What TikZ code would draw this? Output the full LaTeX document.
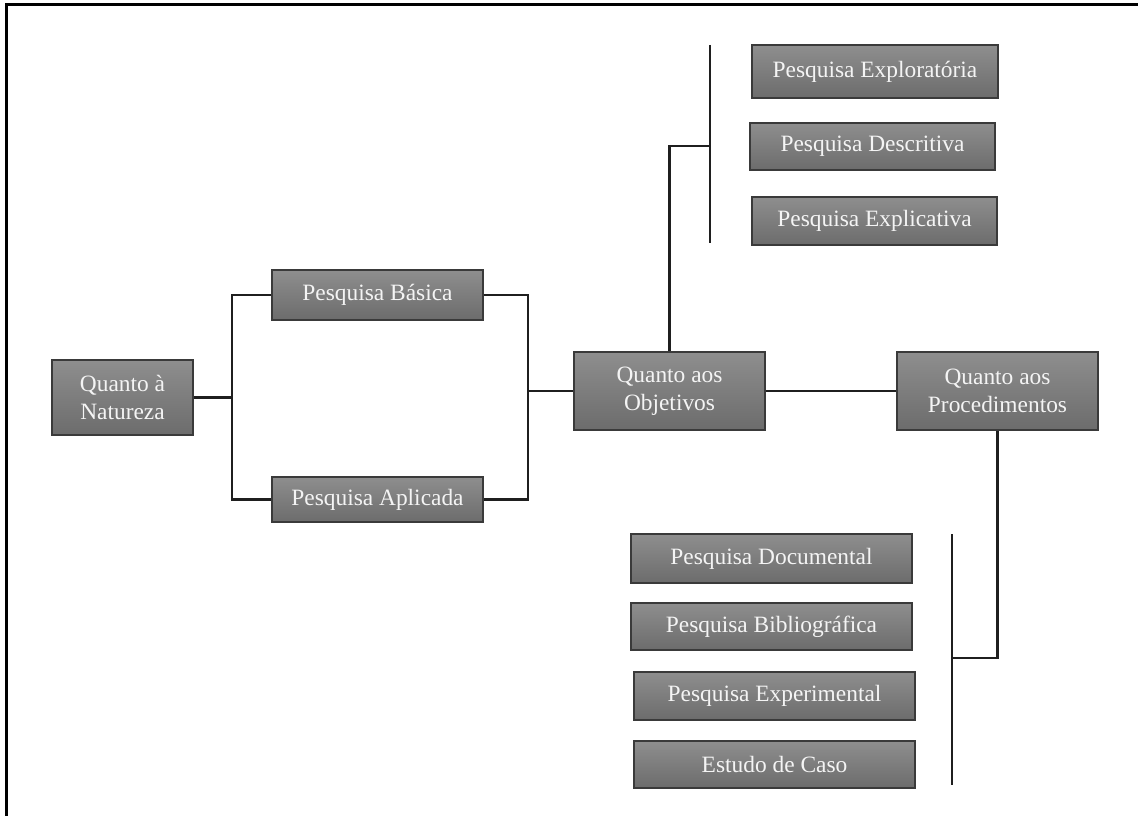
\documentclass[tikz,border=0pt]{standalone}
\usepackage{fontspec}
\setmainfont{Liberation Serif}
\definecolor{boxtop}{HTML}{8E8E8E}
\definecolor{boxbot}{HTML}{6C6C6C}
\definecolor{boxedge}{HTML}{3A3A3A}
\definecolor{boxtext}{HTML}{F4F4F4}
\begin{document}
\begin{tikzpicture}[x=1pt,y=-1pt,
  box/.style={draw=boxedge, line width=1.2pt, top color=boxtop, bottom color=boxbot,
    text=boxtext, inner sep=0pt, align=center,
    font=\fontsize{23.4}{28}\selectfont},
  link/.style={line width=2.4pt, draw=black!88}]
\useasboundingbox (0,0) rectangle (1138,816);
\fill[white] (0,0) rectangle (1138,816);
% open frame (top and left edges)
\draw[line width=3pt] (6,816) -- (6,5) -- (1138,5);

% boxes: centre, width, height
\node[box, minimum width=141pt, minimum height=75pt] (nat) at (122.5,397.5) {Quanto à\\Natureza};
\node[box, minimum width=211pt, minimum height=50pt] (bas) at (377.5,295) {Pesquisa Básica};
\node[box, minimum width=211pt, minimum height=45pt] (apl) at (377.5,499.5) {Pesquisa Aplicada};
\node[box, minimum width=191pt, minimum height=78pt] (obj) at (669.5,391) {Quanto aos\\Objetivos};
\node[box, minimum width=201pt, minimum height=78pt] (proc) at (997.5,391) {Quanto aos\\Procedimentos};

\node[box, minimum width=246pt, minimum height=53pt] (expl) at (875,71.5) {Pesquisa Exploratória};
\node[box, minimum width=245pt, minimum height=47pt] (desc) at (872.5,146.5) {Pesquisa Descritiva};
\node[box, minimum width=245pt, minimum height=48pt] (expc) at (874.5,221) {Pesquisa Explicativa};

\node[box, minimum width=281pt, minimum height=49pt] (doc) at (771.5,558.5) {Pesquisa Documental};
\node[box, minimum width=281pt, minimum height=47pt] (bib) at (771.5,626.5) {Pesquisa Bibliográfica};
\node[box, minimum width=281pt, minimum height=48pt] (exp) at (774.5,696) {Pesquisa Experimental};
\node[box, minimum width=281pt, minimum height=47pt] (cas) at (774.5,764.5) {Estudo de Caso};

% junction points
\coordinate (lj) at (232,0);
\coordinate (rj) at (528,0);
\coordinate (oj) at (710,146);
\coordinate (otop) at (710,45);
\coordinate (obot) at (710,243);
\coordinate (pj) at (952,658);
\coordinate (ptop) at (952,534);
\coordinate (pbot) at (952,785);

% connectors
\draw[link] (nat.east) -- (nat.east -| lj);
\draw[link] (bas.west) -- (bas.west -| lj) -- (apl.west -| lj) -- (apl.west);
\draw[link] (bas.east) -- (bas.east -| rj) -- (apl.east -| rj) -- (apl.east);
\draw[link] (obj.west) -- (obj.west -| rj);
\draw[link] (obj.north) |- (oj);
\draw[link] (otop) -- (obot);
\draw[link] (obj.east) -- (proc.west);
\draw[link] (proc.south) |- (pj);
\draw[link] (ptop) -- (pbot);
\end{tikzpicture}
\end{document}
